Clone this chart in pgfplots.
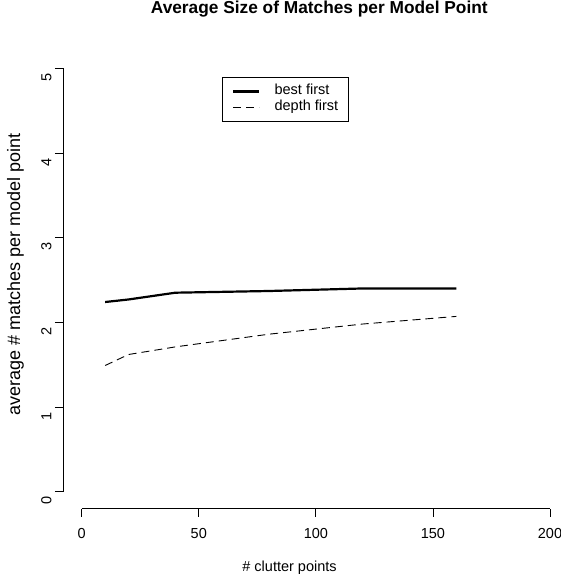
\documentclass[border=0pt]{standalone}
\usepackage{fontspec}
\setmainfont{Liberation Sans}
\usepackage{pgfplots}
\pgfplotsset{compat=1.18}
\begin{document}
\begin{tikzpicture}[x=1bp,y=1bp]
\useasboundingbox (0bp,0bp) rectangle (561bp,576bp);
\begin{axis}[
  at={(63bp,67.4bp)}, anchor=south west,
  scale only axis, width=505.7bp, height=457.2bp,
  xmin=-8, xmax=208, ymin=-0.2, ymax=5.2,
  clip=false,
  axis x line*=bottom, axis y line*=left,
  axis line style={draw=none},
  xtick={0,50,100,150,200}, ytick={0,1,2,3,4,5},
  tick align=outside, major tick length=8bp,
  tick style={black, line width=0.8bp},
  minor tick num=0,
  /pgf/number format/assume math mode=true,
  ticklabel style={font=\fontsize{14.5bp}{17bp}\selectfont},
  xticklabel style={yshift=-8bp},
  yticklabel style={rotate=90, anchor=south, xshift=-9bp},
  title={\bfseries Average Size of Matches per Model Point},
  title style={at={(axis description cs:0.5068,1.0702)}, anchor=base, font=\fontsize{17.3bp}{20bp}\selectfont},
  xlabel={\# clutter points},
  xlabel style={at={(axis description cs:0.448,-0.1376)}, anchor=base, font=\fontsize{14.5bp}{17bp}\selectfont},
  ylabel={average \# matches per model point},
  ylabel style={at={(axis description cs:-0.085,0.513)}, anchor=base, font=\fontsize{18bp}{21bp}\selectfont},
  legend style={at={(axis description cs:0.3144,0.944)}, anchor=north west, draw=black, line width=0.8bp,
    font=\fontsize{14.5bp}{17bp}\selectfont, inner xsep=10bp, inner ysep=7bp, row sep=2bp,
    nodes={inner sep=0pt, text height=10.5bp, text depth=3.5bp},
    /tikz/every odd column/.append style={column sep=14bp}},
  legend cell align=left,
  legend image code/.code={\draw[#1] (0bp,0bp) -- (26bp,0bp);},
]
\addplot[black, line width=2.2bp] coordinates {
  (10,2.24) (20,2.27) (40,2.35) (80,2.37) (120,2.40) (160,2.40)
};
\addlegendentry{best first}
\addplot[black, line width=0.9bp, dash pattern=on 8bp off 5bp] coordinates {
  (10,1.49) (20,1.62) (40,1.71) (80,1.86) (120,1.98) (160,2.07)
};
\addlegendentry{depth first}
\draw[line width=0.8bp] (axis cs:0,-0.2) -- (axis cs:200,-0.2);
\draw[line width=0.8bp] (axis cs:-8,0) -- (axis cs:-8,5);
\end{axis}
\end{tikzpicture}
\end{document}
